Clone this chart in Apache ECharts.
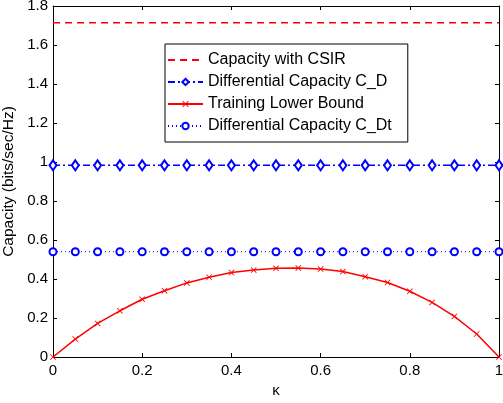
<!DOCTYPE html>
<html>
<head>
<meta charset="utf-8">
<script src="https://cdn.jsdelivr.net/npm/echarts@6/dist/echarts.min.js"></script>
<style>
  html, body { margin: 0; padding: 0; background: #fff; }
  #chart { width: 503px; height: 403px; }
</style>
</head>
<body>
<div id="chart"></div>
<script>
// kappa samples and the four curves
const kappa = [0, 0.05, 0.1, 0.15, 0.2, 0.25, 0.3, 0.35, 0.4, 0.45, 0.5,
               0.55, 0.6, 0.65, 0.7, 0.75, 0.8, 0.85, 0.9, 0.95, 1];
const csir = [1.714, 1.714, 1.714, 1.714, 1.714, 1.714, 1.714, 1.714, 1.714, 1.714, 1.714,
              1.714, 1.714, 1.714, 1.714, 1.714, 1.714, 1.714, 1.714, 1.714, 1.714];
const capD = [0.983, 0.983, 0.983, 0.983, 0.983, 0.983, 0.983, 0.983, 0.983, 0.983, 0.983,
              0.983, 0.983, 0.983, 0.983, 0.983, 0.983, 0.983, 0.983, 0.983, 0.983];
const training = [0, 0.092, 0.172, 0.237, 0.296, 0.340, 0.380, 0.409, 0.433, 0.446, 0.455,
                  0.457, 0.451, 0.438, 0.412, 0.382, 0.337, 0.280, 0.208, 0.118, 0];
const capDt = [0.540, 0.540, 0.540, 0.540, 0.540, 0.540, 0.540, 0.540, 0.540, 0.540, 0.540,
               0.540, 0.540, 0.540, 0.540, 0.540, 0.540, 0.540, 0.540, 0.540, 0.540];
const xTicks = ['0', '0.2', '0.4', '0.6', '0.8', '1'];
const yTicks = ['0', '0.2', '0.4', '0.6', '0.8', '1', '1.2', '1.4', '1.6', '1.8'];

const font = 'Liberation Sans, Arial, Helvetica, sans-serif';
const red = '#ff0000';
const blue = '#0000ff';
const crossPath = 'path://M0,1L1,0L5,4L9,0L10,1L6,5L10,9L9,10L5,6L1,10L0,9L4,5Z';

const pairs = (ys) => kappa.map((k, i) => [k, ys[i]]);

const chart = echarts.init(document.getElementById('chart'));

const axisBase = {
  type: 'value',
  splitLine: { show: false },
  axisLine: { show: true, onZero: false, lineStyle: { color: '#000', width: 1 } },
  axisTick: { show: true, inside: true, length: 4, lineStyle: { color: '#000' } }
};

const option = {
  animation: false,
  backgroundColor: '#fff',
  grid: { left: 53, right: 4, top: 6, bottom: 46, containLabel: false, outerBoundsMode: 'none' },
  xAxis: [
    Object.assign({}, axisBase, {
      min: 0, max: 1, interval: 0.2,
      name: 'κ', nameLocation: 'middle', nameGap: 25,
      nameTextStyle: { fontFamily: font, fontSize: 15, color: '#000' },
      axisLabel: {
        fontFamily: font, fontSize: 15, color: '#000', margin: 6,
        formatter: (v) => xTicks[Math.round(v / 0.2)]
      }
    }),
    Object.assign({}, axisBase, {
      position: 'top', min: 0, max: 1, interval: 0.2,
      axisLabel: { show: false }
    })
  ],
  yAxis: [
    Object.assign({}, axisBase, {
      min: 0, max: 1.8, interval: 0.2,
      name: 'Capacity (bits/sec/Hz)', nameLocation: 'middle', nameGap: 26,
      nameTextStyle: { fontFamily: font, fontSize: 15.5, color: '#000' },
      axisLabel: {
        fontFamily: font, fontSize: 15, color: '#000', margin: 5,
        formatter: (v) => yTicks[Math.round(v / 0.2)]
      }
    }),
    Object.assign({}, axisBase, {
      position: 'right', min: 0, max: 1.8, interval: 0.2,
      axisLabel: { show: false }
    })
  ],
  legend: {
    orient: 'vertical',
    left: 165, top: 44,
    padding: [8, 16, 8, 2],
    itemWidth: 35, itemHeight: 8, itemGap: 6,
    backgroundColor: '#fff',
    borderColor: '#000', borderWidth: 1, borderRadius: 0,
    textStyle: { fontFamily: font, fontSize: 16, color: '#000' },
    data: [
      { name: 'Capacity with CSIR', itemStyle: { opacity: 0 } },
      'Differential Capacity C_D',
      'Training Lower Bound',
      'Differential Capacity C_Dt'
    ]
  },
  series: [
    {
      name: 'Capacity with CSIR', type: 'line',
      data: pairs(csir),
      showSymbol: false, symbol: 'none',
      lineStyle: { color: red, width: 1.5, type: [7, 5] },
      itemStyle: { color: red }
    },
    {
      name: 'Differential Capacity C_D', type: 'line',
      data: pairs(capD),
      symbol: 'diamond', symbolSize: [7, 10],
      lineStyle: { color: blue, width: 1.5, type: [7, 3, 2, 3] },
      itemStyle: { color: '#fff', borderColor: blue, borderWidth: 2 }
    },
    {
      name: 'Training Lower Bound', type: 'line',
      data: pairs(training),
      symbol: crossPath, symbolSize: 6,
      lineStyle: { color: red, width: 1.5 },
      itemStyle: { color: red }
    },
    {
      name: 'Differential Capacity C_Dt', type: 'line',
      data: pairs(capDt),
      symbol: 'circle', symbolSize: 7,
      lineStyle: { color: blue, width: 1, type: [1, 3] },
      itemStyle: { color: '#fff', borderColor: blue, borderWidth: 2 }
    }
  ]
};

chart.setOption(option);
</script>
</body>
</html>
